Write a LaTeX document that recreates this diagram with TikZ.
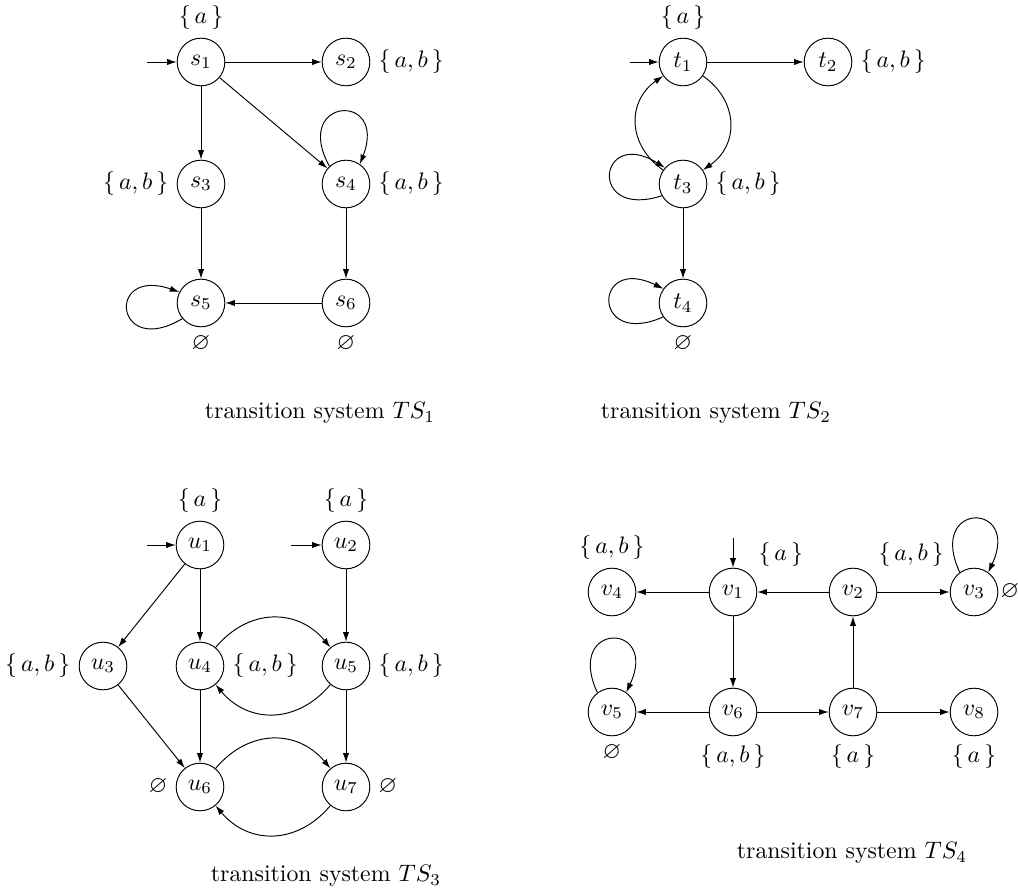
\documentclass[tikz,border=0pt]{standalone}
\usepackage{amsmath, amssymb}
\usetikzlibrary{arrows.meta}
\tikzset{
	state/.style={circle, draw, minimum size=20pt, inner sep=0pt},
	selfloop/.style={distance=33pt},
	tscaption/.style={inner sep=0pt},
}
\newcommand{\pa}{$\{\,a\,\}$}
\newcommand{\pab}{$\{\,a,b\,\}$}
\newcommand{\pnone}{$\varnothing$}

\begin{document}
\begin{tikzpicture}[x=0.42pt, y=0.42pt, >={Latex[length=4pt,width=2.6pt]}]
			\useasboundingbox (0,0) rectangle (1018,893);

			% --- TS1 ---
			\node[state, label=above:\pa]  (s1) at (201,831) {$s_1$};
			\node[state, label=right:\pab] (s2) at (346,831) {$s_2$};
			\node[state, label=left:\pab]  (s3) at (201,709) {$s_3$};
			\node[state, label=right:\pab] (s4) at (346,709) {$s_4$};
			\node[state, label=below:\pnone] (s5) at (201,590) {$s_5$};
			\node[state, label=below:\pnone] (s6) at (346,590) {$s_6$};
			\coordinate (s0) at (147,831);

			\draw[->] (s0) -- (s1);
			\draw[->] (s1) -- (s2);
			\draw[->] (s1) -- (s3);
			\draw[->] (s1) -- (s4);
			\draw[->] (s3) -- (s5);
			\draw[->] (s4) -- (s6);
			\draw[->] (s6) -- (s5);
			\draw[->] (s4.133) to[selfloop, out=119, in=69] (s4.55);
			\draw[->] (s5.220) to[selfloop, out=211, in=161] (s5.153);

			\node[tscaption] (cap1) at (320,480) {transition system $TS_1$};

			% --- TS2 ---
			\node[state, label=above:\pa]  (t1) at (683,831) {$t_1$};
			\node[state, label=right:\pab] (t2) at (828,831) {$t_2$};
			\node[state, label=right:\pab] (t3) at (683,709) {$t_3$};
			\node[state, label=below:\pnone] (t4) at (683,590) {$t_4$};
			\coordinate (t0) at (630,831);

			\draw[->] (t0) -- (t1);
			\draw[->] (t1) -- (t2);
			\draw[->] (t1) to[bend left=55, looseness=1.2] (t3);
			\draw[->] (t3) to[bend left=55, looseness=1.2] (t1);
			\draw[->] (t3) -- (t4);
			\draw[->] (t3.209) to[selfloop, out=198, in=148] (t3.138);
			\draw[->] (t4.215) to[selfloop, out=204, in=154] (t4.144);

			\node[tscaption] (cap2) at (716,480) {transition system $TS_2$};

			% --- TS3 ---
			\node[state, label=above:\pa]  (u1) at (200,348) {$u_1$};
			\node[state, label=above:\pa]  (u2) at (346,348) {$u_2$};
			\node[state, label=left:\pab]  (u3) at (103,227) {$u_3$};
			\node[state, label=right:\pab] (u4) at (200,227) {$u_4$};
			\node[state, label=right:\pab] (u5) at (346,227) {$u_5$};
			\node[state, label=left:\pnone]  (u6) at (200,106) {$u_6$};
			\node[state, label=right:\pnone] (u7) at (346,106) {$u_7$};
			\coordinate (u10) at (147,348);
			\coordinate (u20) at (291,348);

			\draw[->] (u10) -- (u1);
			\draw[->] (u20) -- (u2);
			\draw[->] (u1) -- (u3);
			\draw[->] (u1) -- (u4);
			\draw[->] (u2) -- (u5);
			\draw[->] (u3) -- (u6);
			\draw[->] (u4) -- (u6);
			\draw[->] (u5) -- (u7);
			\draw[->] (u4) to[bend left=50, looseness=1.15] (u5);
			\draw[->] (u5) to[bend left=50, looseness=1.15] (u4);
			\draw[->] (u6) to[bend left=50, looseness=1.15] (u7);
			\draw[->] (u7) to[bend left=50, looseness=1.15] (u6);

			\node[tscaption] (cap3) at (326,17) {transition system $TS_3$};

			% --- TS4 ---
			\node[state, label=above:\pab] (v4) at (612,301) {$v_4$};
			\node[state, label=45:\pa]     (v1) at (733,301) {$v_1$};
			\node[state, label=45:\pab]    (v2) at (853,301) {$v_2$};
			\node[state, label={[label distance=-2.6pt]right:\pnone}] (v3) at (974,301) {$v_3$};
			\node[state, label=below:\pnone] (v5) at (612,181) {$v_5$};
			\node[state, label=below:\pab] (v6) at (733,181) {$v_6$};
			\node[state, label=below:\pa]  (v7) at (853,181) {$v_7$};
			\node[state, label=below:\pa]  (v8) at (974,181) {$v_8$};
			\coordinate (v0) at (733,355);

			\draw[->] (v0) -- (v1);
			\draw[->] (v1) -- (v4);
			\draw[->] (v2) -- (v1);
			\draw[->] (v2) -- (v3);
			\draw[->] (v1) -- (v6);
			\draw[->] (v7) -- (v2);
			\draw[->] (v6) -- (v5);
			\draw[->] (v6) -- (v7);
			\draw[->] (v7) -- (v8);
			\draw[->] (v3.126) to[selfloop, out=115, in=65] (v3.54);
			\draw[->] (v5.127) to[selfloop, out=115, in=65] (v5.54);

			\node[tscaption] (cap4) at (852,40) {transition system $TS_4$};
		\end{tikzpicture}
\end{document}
